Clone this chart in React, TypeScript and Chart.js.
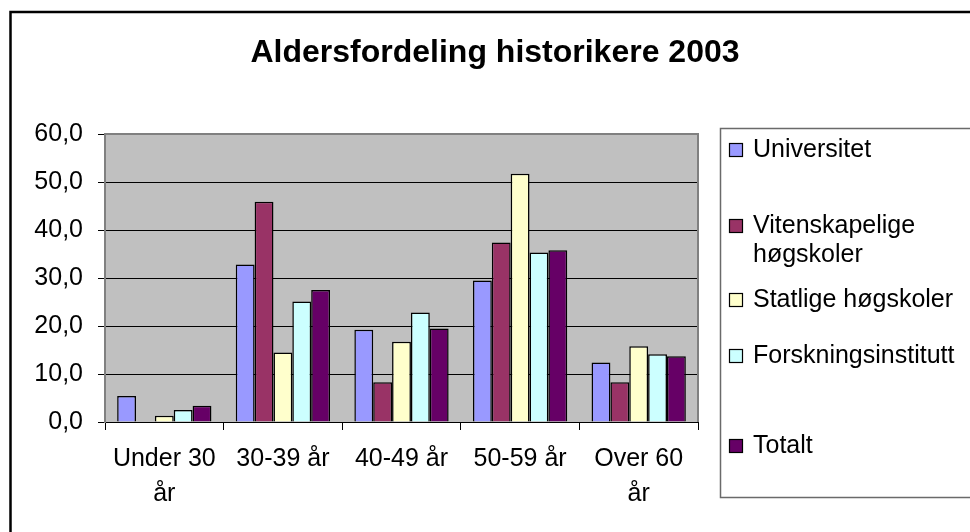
import React, { useEffect, useRef } from 'react';
import { Chart, registerables } from 'chart.js';

Chart.register(...registerables);

const chartTitle = 'Aldersfordeling historikere 2003';
const categories: (string | string[])[] = [['Under 30', 'år'], '30-39 år', '40-49 år', '50-59 år', ['Over 60', 'år']];
const seriesNames = ['Universitet', 'Vitenskapelige høgskoler', 'Statlige høgskoler', 'Forskningsinstitutt', 'Totalt'];
const universitet = [5.4, 32.8, 19.2, 29.5, 12.4];
const vitenskapelige = [0, 45.9, 8.3, 37.4, 8.3];
const statlige = [1.3, 14.5, 16.7, 51.7, 15.8];
const forskningsinstitutt = [2.5, 25.1, 22.8, 35.3, 14.1];
const totalt = [3.4, 27.5, 19.5, 35.8, 13.7];
const yMin = 0;
const yMax = 60;
const yStep = 10;
const seriesColors = ['#9999FF', '#993366', '#FFFFCC', '#CCFFFF', '#660066'];

const FAMILY = '"Liberation Sans", Arial, Helvetica, sans-serif';

function wrapText(ctx: CanvasRenderingContext2D, text: string, maxW: number): string[] {
  const words = text.split(' ');
  const lines: string[] = [];
  let cur = '';
  for (const w of words) {
    const t = cur ? cur + ' ' + w : w;
    if (ctx.measureText(t).width > maxW && cur) {
      lines.push(cur);
      cur = w;
    } else cur = t;
  }
  if (cur) lines.push(cur);
  return lines;
}

const decor = {
  id: 'decor',
  beforeDraw(chart: any) {
    const { ctx, chartArea: a } = chart;
    ctx.save();
    ctx.fillStyle = '#ffffff';
    ctx.fillRect(0, 0, chart.width, chart.height);
    ctx.fillStyle = '#C0C0C0';
    ctx.fillRect(a.left, a.top, a.right - a.left, a.bottom - a.top);
    ctx.restore();
  },
  afterDraw(chart: any) {
    const { ctx, chartArea: a } = chart;
    ctx.save();
    // plot border (top / right)
    ctx.strokeStyle = '#808080';
    ctx.lineWidth = 2;
    ctx.beginPath();
    ctx.moveTo(a.left, a.top);
    ctx.lineTo(a.right, a.top);
    ctx.lineTo(a.right, a.bottom);
    ctx.stroke();

    // outer border
    ctx.strokeStyle = '#000';
    ctx.lineWidth = 2.5;
    ctx.strokeRect(10.5, 12, 1000, 600);

    // title
    ctx.fillStyle = '#000';
    ctx.font = 'bold 32px ' + FAMILY;
    ctx.textAlign = 'center';
    ctx.textBaseline = 'alphabetic';
    ctx.fillText(chartTitle, 495, 62);

    // legend box
    ctx.strokeStyle = '#6a6a6a';
    ctx.lineWidth = 1.5;
    ctx.strokeRect(720.5, 128.5, 300, 369);

    // legend entries
    const baselines = [[157], [233, 262], [307], [363], [453]];
    ctx.font = '25px ' + FAMILY;
    ctx.textAlign = 'left';
    chart.data.datasets.forEach((ds: any, i: number) => {
      const lines = wrapText(ctx, ds.label, 205);
      const bl = baselines[i];
      const y0 = bl[0];
      ctx.fillStyle = ds.backgroundColor;
      ctx.fillRect(729.5, y0 - 13.5, 13, 13);
      ctx.strokeStyle = '#000';
      ctx.lineWidth = 1.2;
      ctx.strokeRect(729.5, y0 - 13.5, 13, 13);
      ctx.fillStyle = '#000';
      lines.forEach((ln, k) => {
        const y = bl[k] !== undefined ? bl[k] : bl[0] + k * 29;
        ctx.fillText(ln, 753, y);
      });
    });
    ctx.restore();
  },
};

export default function App() {
  const ref = useRef<HTMLCanvasElement | null>(null);
  useEffect(() => {
    if (!ref.current) return;
    const seriesData = [universitet, vitenskapelige, statlige, forskningsinstitutt, totalt];
    const chart = new Chart(ref.current, {
      type: 'bar',
      data: {
        labels: categories as any,
        datasets: seriesNames.map((name, i) => ({
          label: name,
          data: seriesData[i],
          backgroundColor: seriesColors[i],
          borderColor: '#000',
          borderWidth: 1.5,
          categoryPercentage: 0.795,
          barPercentage: 1,
        })),
      },
      options: {
        responsive: false,
        animation: false,
        layout: { padding: { left: 0, top: 134, right: 272, bottom: 10 } },
        plugins: {
          legend: { display: false },
          title: { display: false },
          tooltip: { enabled: false },
        },
        scales: {
          x: {
            offset: true,
            grid: {
              display: true,
              drawOnChartArea: false,
              drawTicks: true,
              tickLength: 8,
              color: '#000',
              offset: true,
            },
            border: { color: '#000', width: 1 },
            ticks: {
              color: '#000',
              font: { family: FAMILY, size: 25, lineHeight: 1.38 },
              padding: 12,
              maxRotation: 0,
              minRotation: 0,
              autoSkip: false,
            },
            afterFit(s: any) {
              s.height = 100;
            },
          },
          y: {
            min: yMin,
            max: yMax,
            ticks: {
              stepSize: yStep,
              color: '#000',
              font: { family: FAMILY, size: 25 },
              padding: 15,
              callback: (v: any) => Number(v).toFixed(1).replace('.', ','),
            },
            grid: {
              color: (c: any) => (c.tick && c.tick.value === yMax ? '#808080' : '#000'),
              tickColor: '#000',
              tickLength: 7,
              lineWidth: 1,
            },
            border: { color: '#808080', width: 2 },
            afterFit(s: any) {
              s.width = 105;
            },
          },
        },
      },
      plugins: [decor],
    } as any);
    return () => chart.destroy();
  }, []);
  return <canvas ref={ref} width={970} height={532} style={{ position: 'absolute', left: 0, top: 0 }} />;
}
